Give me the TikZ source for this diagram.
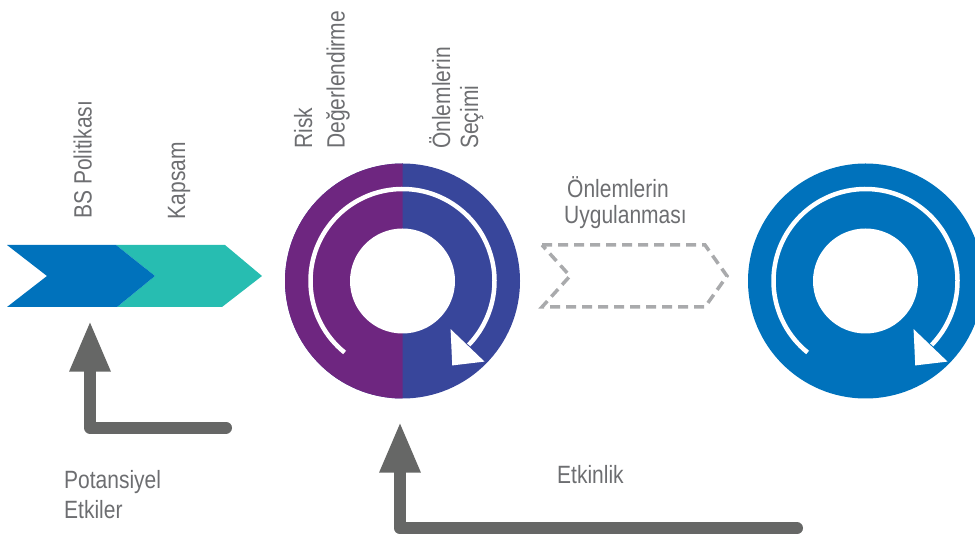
\documentclass[tikz,border=0pt]{standalone}
\usepackage{fontspec}
\setmainfont[FakeStretch=0.84]{Liberation Sans}
\usetikzlibrary{arrows.meta,calc}
\definecolor{cblue}{HTML}{0072BC}
\definecolor{cteal}{HTML}{27BDB1}
\definecolor{cpurple}{HTML}{6E2680}
\definecolor{cindigo}{HTML}{38469B}
\definecolor{cgray}{HTML}{666766}
\definecolor{cdash}{HTML}{A9AAAC}
\definecolor{ctext}{HTML}{6D6E71}
\begin{document}
\begin{tikzpicture}[x=1pt,y=1pt,
  lbl/.style={text=ctext, font=\fontsize{25}{30}\selectfont, inner sep=0pt, anchor=base west},
  vlbl/.style={lbl, rotate=90},
  fb/.style={draw=cgray, line width=12pt, line cap=round, line join=round, -{Triangle[length=51pt,width=38pt]}},
  swirl/.style={draw=white, line width=4.5pt},
  swirltip/.style={fill=white},
  ]
\clip (0,0) rectangle (975,538);
\useasboundingbox (0,0) rectangle (975,538);

% chevrons
\fill[cteal] (116,293) -- (225,293) -- (262,262) -- (222,231) -- (117,231) -- (155,262) -- cycle;
\fill[cblue] (7,293) -- (116,293) -- (155,262) -- (117,231) -- (7,231) -- (47,262) -- cycle;

% dashed chevron
\draw[cdash, line width=3.5pt, dash pattern=on 10pt off 6pt] (542,293) -- (705,293) -- (727,262) -- (705,231) -- (542,231) -- (570,262) -- cycle;

% ring 1
\coordinate (r1) at (402.5,257);
\fill[cindigo] (r1) circle[radius=117.5];
\fill[cpurple] ($(r1)+(0,117.5)$) arc[start angle=90,end angle=270,radius=117.5] -- cycle;
\fill[white] (r1) circle[radius=52.5];
\draw[swirl] ($(r1)+(231:92)$) arc[start angle=231,end angle=-44,radius=92];
\fill[swirltip] ($(r1)+(-45:68)$) -- ($(r1)+(-44.5:115)$) -- ($(r1)+(-59.5:98)$) -- cycle;

% ring 2
\coordinate (r2) at (865.5,257);
\fill[cblue] (r2) circle[radius=117.5];
\fill[white] (r2) circle[radius=52.5];
\draw[swirl] ($(r2)+(231:92)$) arc[start angle=231,end angle=-44,radius=92];
\fill[swirltip] ($(r2)+(-45:68)$) -- ($(r2)+(-44.5:115)$) -- ($(r2)+(-59.5:98)$) -- cycle;

% feedback arrows
\coordinate (a1s) at (226,110.3);
\coordinate (a1c) at (90,110.3);
\coordinate (a1t) at (90,217.3);
\draw[fb] (a1s) -- (a1c) -- (a1t);
\coordinate (a2s) at (797,9.7);
\coordinate (a2c) at (400,9.7);
\coordinate (a2t) at (400,116.3);
\draw[fb] (a2s) -- (a2c) -- (a2t);

% labels
\node[vlbl] (bs) at (91.5,319) {BS Politikası};
\node[vlbl] (kap) at (185,318.5) {Kapsam};
\node[vlbl] (risk) at (312,389) {Risk};
\node[vlbl] (deg) at (344.5,389) {Değerlendirme};
\node[vlbl] (onl) at (450,389) {Önlemlerin};
\node[vlbl] (sec) at (478,389) {Seçimi};
\node[lbl] (onu) at (567,340.3) {Önlemlerin};
\node[lbl] (uyg) at (564,314) {Uygulanması};
\node[lbl] (pot) at (64,49.7) {Potansiyel};
\node[lbl] (etk) at (64,19.7) {Etkiler};
\node[lbl] (etn) at (557,54.7) {Etkinlik};
\end{tikzpicture}
\end{document}
